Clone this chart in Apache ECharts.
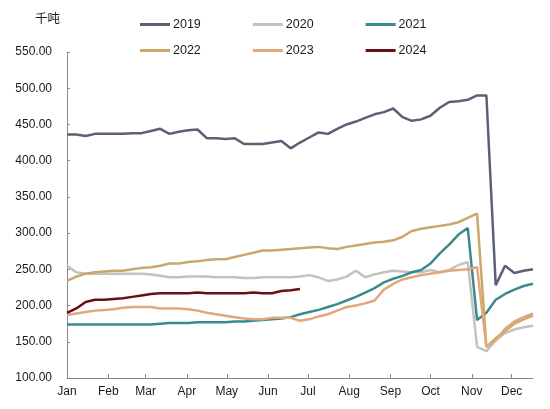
<!DOCTYPE html>
<html>
<head>
<meta charset="utf-8">
<script src="https://cdn.jsdelivr.net/npm/echarts@6/dist/echarts.min.js"></script>
<style>
html,body{margin:0;padding:0;background:#fff;}
#chart{width:550px;height:409px;}
</style>
</head>
<body>
<div id="chart"></div>
<script>
// Month labels and their start day-of-year (x-axis ticks)
const months = ['Jan','Feb','Mar','Apr','May','Jun','Jul','Aug','Sep','Oct','Nov','Dec'];
const monthStartDays = [0,31,59,90,120,151,181,212,243,273,304,334];
const yTicks = [100,150,200,250,300,350,400,450,500,550];
const daysPerWeek = 7;

// Weekly inventory values (千吨), week 0 = start of Jan
const s2019 = [436,436,434,437,437,437,437,438,438,441,444,437,440,442,443,431,431,430,431,423,423,423,425,427,417,425,432,439,437,444,450,454,459,464,467,472,460,455,457,462,473,481,482,484,490,490,228,255,245,248,250];
const s2020 = [255,246,244,244,244,244,244,244,244,243,241,239,239,240,240,240,239,239,239,238,238,239,239,239,239,240,242,239,234,236,240,248,239,243,246,248,247,246,246,249,246,249,256,260,143,137,152,162,167,170,172];
const s2021 = [174,174,174,174,174,174,174,174,174,174,175,176,176,176,177,177,177,177,178,178,179,180,181,182,184,188,191,194,198,202,207,212,218,224,232,237,241,246,249,258,272,284,298,307,180,190,208,216,222,227,230];
const s2022 = [234,240,244,246,247,248,248,250,252,253,255,258,258,260,261,263,264,264,267,270,273,276,276,277,278,279,280,281,279,278,281,283,285,287,288,290,295,303,306,308,310,312,315,321,327,143,155,165,175,181,186];
const s2023 = [187,189,191,193,194,195,197,198,198,198,196,196,196,195,193,190,188,186,184,182,181,181,183,183,183,179,181,185,188,193,198,200,203,207,222,230,236,239,242,244,246,248,249,250,253,143,152,168,178,184,189];
const s2024 = [190,196,205,208,208,209,210,212,214,216,217,217,217,217,218,217,217,217,217,217,218,217,217,220,221,223];

const seriesNames = ['2019','2020','2021','2022','2023','2024'];
const seriesData = [s2019,s2020,s2021,s2022,s2023,s2024];
const colors = ['#5B6072','#C3C2BC','#3B8B8E','#C9A86A','#E2A77A','#6A0E18'];

const chart = echarts.init(document.getElementById('chart'), null, {renderer:'canvas'});
const textColor = '#1a1a1a';
const axisColor = '#8a8a8a';
const font = 'Arial, "Liberation Sans", sans-serif';

const legendCommon = {
  left: 140, padding: 0, itemGap: 52, itemWidth: 30, itemHeight: 3, icon: 'rect',
  textStyle: {color: textColor, fontSize: 12.5, fontFamily: font, padding:[0,0,0,-2]}
};

chart.setOption({
  animation: false,
  color: colors,
  graphic: [{type:'text', left: 35, top: 12, style:{text:'千吨', fill:textColor, font:'12.5px "Noto Sans CJK SC"'}}],
  legend: [
    Object.assign({}, legendCommon, {top: 18, data: seriesNames.slice(0,3)}),
    Object.assign({}, legendCommon, {top: 44, data: seriesNames.slice(3)})
  ],
  grid: {left: 67, right: 17, top: 52, bottom: 31, containLabel: false},
  xAxis: {
    type: 'value', min: 0, max: 50 * daysPerWeek,
    splitLine: {show:false},
    axisLine: {show:true, lineStyle:{color:axisColor, width:1}},
    axisTick: {show:true, inside:true, length:4, lineStyle:{color:axisColor}, customValues: monthStartDays},
    axisLabel: {
      color: textColor, fontSize: 12, fontFamily: font, margin: 8,
      customValues: monthStartDays,
      formatter: function(v){ const i = monthStartDays.indexOf(v); return i >= 0 ? months[i] : ''; }
    }
  },
  yAxis: {
    type: 'value', min: yTicks[0], max: yTicks[yTicks.length-1], interval: 50,
    splitLine: {show:false},
    axisLine: {show:true, lineStyle:{color:axisColor, width:1}},
    axisTick: {show:true, inside:true, length:3, lineStyle:{color:axisColor}},
    axisLabel: {color: textColor, fontSize: 12, fontFamily: font, margin: 15,
      formatter: function(v){ return v.toFixed(2); }}
  },
  series: seriesNames.map(function(name, k){
    return {
      name: name, type: 'line', symbol: 'none', smooth: false,
      lineStyle: {width: 2.5, color: colors[k]},
      itemStyle: {color: colors[k]},
      data: seriesData[k].map(function(v, i){ return [i * daysPerWeek, v]; }),
      z: 2 + k
    };
  })
});
</script>
</body>
</html>
